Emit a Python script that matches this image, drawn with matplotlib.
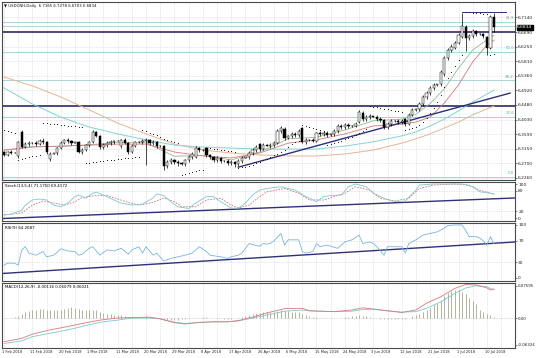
import matplotlib
matplotlib.use("Agg")
import matplotlib.pyplot as plt
import numpy as np

# USDCNH daily candles (broker has Sunday bars)
opens = [
    6.305, 6.297, 6.305, 6.302, 6.292, 6.366, 6.321, 6.330, 6.333, 6.332,
    6.329, 6.340, 6.335, 6.283, 6.300, 6.302, 6.317, 6.333, 6.341, 6.338,
    6.332, 6.334, 6.306, 6.311, 6.326, 6.335, 6.366, 6.354, 6.320, 6.326,
    6.332, 6.335, 6.338, 6.322, 6.342, 6.332, 6.305, 6.323, 6.335, 6.335,
    6.339, 6.341, 6.332, 6.336, 6.323, 6.322, 6.262, 6.275, 6.281, 6.275,
    6.272, 6.268, 6.280, 6.290, 6.290, 6.317, 6.311, 6.317, 6.296, 6.289,
    6.281, 6.287, 6.278, 6.279, 6.272, 6.275, 6.268, 6.278, 6.287, 6.289,
    6.302, 6.311, 6.329, 6.314, 6.326, 6.324, 6.326, 6.332, 6.369, 6.376,
    6.348, 6.354, 6.360, 6.357, 6.378, 6.335, 6.341, 6.343, 6.340, 6.362,
    6.360, 6.363, 6.357, 6.359, 6.369, 6.384, 6.381, 6.387, 6.384, 6.385,
    6.396, 6.424, 6.405, 6.411, 6.414, 6.412, 6.405, 6.402, 6.381, 6.390,
    6.399, 6.400, 6.396, 6.405, 6.390, 6.418, 6.433, 6.435, 6.451, 6.472,
    6.484, 6.500, 6.509, 6.511, 6.542, 6.591, 6.615, 6.622, 6.636, 6.655,
    6.685, 6.652, 6.657, 6.672, 6.665, 6.663, 6.655, 6.622, 6.7165]
highs = [
    6.309, 6.309, 6.310, 6.305, 6.338, 6.371, 6.336, 6.340, 6.334, 6.339,
    6.346, 6.348, 6.339, 6.304, 6.303, 6.320, 6.337, 6.346, 6.349, 6.343,
    6.335, 6.338, 6.316, 6.330, 6.340, 6.372, 6.368, 6.358, 6.333, 6.338,
    6.341, 6.343, 6.341, 6.346, 6.347, 6.336, 6.328, 6.339, 6.337, 6.345,
    6.348, 6.346, 6.342, 6.340, 6.325, 6.326, 6.281, 6.287, 6.285, 6.280,
    6.274, 6.285, 6.296, 6.305, 6.322, 6.320, 6.314, 6.320, 6.300, 6.293,
    6.292, 6.290, 6.281, 6.284, 6.281, 6.279, 6.283, 6.292, 6.290, 6.307,
    6.318, 6.327, 6.333, 6.331, 6.328, 6.332, 6.337, 6.375, 6.384, 6.380,
    6.356, 6.366, 6.365, 6.376, 6.382, 6.347, 6.345, 6.349, 6.367, 6.368,
    6.369, 6.368, 6.361, 6.374, 6.389, 6.390, 6.393, 6.392, 6.387, 6.396,
    6.432, 6.429, 6.417, 6.420, 6.415, 6.416, 6.410, 6.406, 6.396, 6.405,
    6.402, 6.406, 6.405, 6.409, 6.423, 6.438, 6.437, 6.457, 6.478, 6.490,
    6.506, 6.516, 6.513, 6.554, 6.597, 6.622, 6.632, 6.641, 6.666, 6.7275,
    6.690, 6.664, 6.679, 6.676, 6.667, 6.668, 6.659, 6.722, 6.7278]
lows = [
    6.292, 6.294, 6.298, 6.301, 6.288, 6.318, 6.316, 6.324, 6.330, 6.322,
    6.325, 6.330, 6.300, 6.279, 6.299, 6.297, 6.313, 6.328, 6.333, 6.327,
    6.331, 6.301, 6.300, 6.307, 6.321, 6.331, 6.352, 6.315, 6.314, 6.320,
    6.327, 6.330, 6.337, 6.318, 6.328, 6.300, 6.301, 6.319, 6.333, 6.329,
    6.265, 6.327, 6.326, 6.318, 6.320, 6.251, 6.256, 6.268, 6.268, 6.264,
    6.266, 6.262, 6.274, 6.285, 6.286, 6.305, 6.309, 6.291, 6.283, 6.276,
    6.276, 6.273, 6.276, 6.267, 6.266, 6.261, 6.263, 6.273, 6.286, 6.284,
    6.296, 6.306, 6.309, 6.310, 6.322, 6.318, 6.320, 6.328, 6.362, 6.343,
    6.346, 6.349, 6.351, 6.352, 6.331, 6.330, 6.339, 6.334, 6.336, 6.354,
    6.355, 6.352, 6.355, 6.354, 6.364, 6.375, 6.376, 6.378, 6.382, 6.380,
    6.392, 6.400, 6.399, 6.405, 6.410, 6.399, 6.396, 6.376, 6.375, 6.385,
    6.397, 6.390, 6.390, 6.384, 6.386, 6.413, 6.431, 6.430, 6.446, 6.466,
    6.478, 6.494, 6.507, 6.505, 6.537, 6.585, 6.608, 6.617, 6.632, 6.650,
    6.612, 6.645, 6.650, 6.659, 6.661, 6.650, 6.600, 6.618, 6.6703]
closes = [
    6.297, 6.305, 6.302, 6.303, 6.335, 6.321, 6.330, 6.333, 6.332, 6.329,
    6.340, 6.335, 6.305, 6.300, 6.302, 6.317, 6.333, 6.341, 6.338, 6.332,
    6.334, 6.306, 6.311, 6.326, 6.335, 6.366, 6.354, 6.320, 6.326, 6.332,
    6.335, 6.338, 6.340, 6.342, 6.332, 6.305, 6.323, 6.335, 6.335, 6.339,
    6.341, 6.332, 6.336, 6.323, 6.322, 6.262, 6.275, 6.281, 6.275, 6.272,
    6.268, 6.280, 6.290, 6.300, 6.317, 6.311, 6.312, 6.296, 6.289, 6.281,
    6.287, 6.278, 6.279, 6.272, 6.275, 6.268, 6.278, 6.287, 6.289, 6.302,
    6.311, 6.320, 6.314, 6.326, 6.324, 6.326, 6.332, 6.369, 6.378, 6.348,
    6.354, 6.360, 6.357, 6.370, 6.335, 6.341, 6.343, 6.340, 6.362, 6.360,
    6.363, 6.357, 6.359, 6.369, 6.384, 6.381, 6.387, 6.384, 6.385, 6.390,
    6.427, 6.405, 6.411, 6.414, 6.412, 6.405, 6.402, 6.381, 6.390, 6.399,
    6.400, 6.396, 6.399, 6.390, 6.418, 6.433, 6.435, 6.451, 6.472, 6.484,
    6.500, 6.509, 6.511, 6.548, 6.591, 6.615, 6.624, 6.636, 6.662, 6.688,
    6.652, 6.657, 6.672, 6.665, 6.663, 6.658, 6.621, 6.716, 6.6834]

# parabolic SAR, one dot per bar
sar = [
    6.372, 6.369, 6.366, 6.363,
    6.281, 6.284, 6.287, 6.290, 6.292, 6.294, 6.296,
    6.393, 6.392, 6.391, 6.390, 6.389, 6.388, 6.386, 6.385, 6.384, 6.383, 6.382, 6.381,
    6.271, 6.273, 6.274, 6.276, 6.277, 6.279, 6.280, 6.281, 6.282, 6.284, 6.285, 6.286,
    6.287, 6.288, 6.289, 6.290,
    6.372, 6.368, 6.364, 6.360, 6.356, 6.352, 6.346, 6.341, 6.337, 6.334, 6.332,
    6.235, 6.238, 6.241, 6.244, 6.247, 6.249, 6.251,
    6.317, 6.316, 6.314, 6.313, 6.311, 6.310, 6.308, 6.307, 6.305,
    6.257, 6.259, 6.261, 6.264, 6.267, 6.271, 6.275, 6.280, 6.285, 6.290, 6.295, 6.300,
    6.305, 6.312, 6.320, 6.328, 6.334, 6.339,
    6.387, 6.385, 6.382, 6.379, 6.376, 6.372, 6.369,
    6.326, 6.329, 6.333, 6.336, 6.340, 6.344, 6.348, 6.352, 6.357, 6.362, 6.368, 6.375,
    6.445, 6.443, 6.441, 6.439, 6.437, 6.435, 6.433, 6.431, 6.429, 6.427,
    6.372, 6.375, 6.378, 6.381, 6.387, 6.396, 6.408, 6.424, 6.439, 6.457, 6.478, 6.503,
    6.530, 6.548, 6.566, 6.585, 6.600,
    6.730, 6.729, 6.728, 6.727, 6.726, 6.725, 6.724,
    6.600, 6.602]

# moving averages, read at a handful of bars
ma_bars = [0, 8, 16, 24, 32, 40, 48, 56, 64, 72, 80, 88, 96, 104, 112, 116, 120, 124, 128, 132, 138]
ma_teal = [6.500, 6.451, 6.411, 6.381, 6.360, 6.342, 6.326, 6.320, 6.317, 6.314, 6.314,
           6.314, 6.323, 6.336, 6.354, 6.366, 6.384, 6.405, 6.430, 6.457, 6.493]
ma_tan = [6.533, 6.506, 6.472, 6.433, 6.393, 6.360, 6.329, 6.311, 6.302, 6.296, 6.293,
          6.293, 6.299, 6.311, 6.332, 6.345, 6.360, 6.378, 6.396, 6.418, 6.445]
fast_bars = [0, 8, 16, 24, 32, 40, 48, 56, 64, 72, 80, 88, 96, 104, 112, 116, 120, 124, 128, 132, 136, 138]
ma_red = [6.311, 6.320, 6.323, 6.326, 6.329, 6.329, 6.305, 6.293, 6.287, 6.302, 6.332,
          6.342, 6.360, 6.384, 6.390, 6.396, 6.411, 6.454, 6.509, 6.579, 6.630, 6.645]
ma_green = [6.310, 6.322, 6.322, 6.327, 6.334, 6.333, 6.292, 6.295, 6.281, 6.305, 6.345,
            6.350, 6.372, 6.400, 6.405, 6.420, 6.452, 6.497, 6.560, 6.615, 6.646, 6.660]

# drawn objects
fib_levels = [6.230, 6.412, 6.524, 6.610, 6.701]
fib_names = ["0.0", "23.6", "38.2", "50.0", "61.8"]
extra_levels = [6.688]
navy_levels = [6.670, 6.445]
trend_bars = [66, 142.5]
trend_prices = [6.259, 6.484]
top_bars = [129, 141.5]
top_prices = [6.730, 6.730]

price_ticks = [6.7140, 6.6696, 6.6253, 6.5809, 6.5366, 6.4922, 6.4479, 6.4035, 6.3592, 6.3148, 6.2704, 6.2261]
price_labels = ["6.7140", "6.6690", "6.6250", "6.5810", "6.5360", "6.4920", "6.4480", "6.4030",
                "6.3590", "6.3150", "6.2700", "6.2260"]

# Stochastic
stoch_bars = [0, 2, 5, 6, 8, 10, 12, 14, 16, 18, 20, 21, 23, 25, 26, 29, 31, 33, 36, 39,
              42, 43, 45, 47, 49, 52, 54, 57, 59, 61, 64, 66, 68, 70, 72, 74, 78, 82, 85, 88,
              90, 92, 95, 97, 99, 102, 104, 107, 110, 113, 116, 117, 121, 126, 129, 132, 134, 137, 138]
stoch_main = [9, 11, 23, 38, 53, 56, 53, 38, 33, 44, 63, 68, 58, 73, 76, 63, 53, 44, 38, 41,
              59, 71, 66, 48, 33, 28, 44, 63, 63, 48, 29, 29, 44, 68, 82, 87, 92, 82, 63, 48,
              63, 66, 68, 92, 100, 92, 73, 58, 48, 50, 82, 97, 100, 100, 100, 92, 77, 73, 71.2]
signal_bars = [0, 5, 8, 11, 14, 17, 20, 22, 26, 29, 32, 35, 38, 42, 45, 48, 50, 54, 57, 61,
               64, 66, 69, 72, 74, 79, 83, 86, 90, 93, 96, 99, 103, 106, 110, 114, 117, 121, 127, 131,
               134, 138]
stoch_signal = [9, 15, 38, 50, 44, 38, 48, 60, 66, 66, 56, 46, 38, 46, 59, 48, 33, 33, 53, 58,
                38, 29, 38, 63, 77, 87, 73, 53, 53, 63, 73, 92, 82, 58, 50, 58, 87, 97, 100, 97,
                82, 69.4]
stoch_trend_bars = [-0.5, 144]
stoch_trend_vals = [-1.5, 59]

# RSI
rsi_bars = [0, 1, 3, 4, 5, 6, 7, 9, 11, 12, 14, 16, 18, 20, 21, 22, 24, 25, 27, 29,
            31, 33, 35, 36, 38, 39, 40, 42, 43, 45, 47, 49, 51, 53, 55, 57, 58, 61, 63, 64,
            66, 67, 69, 70, 72, 73, 74, 75, 76, 78, 79, 80, 83, 84, 85, 87, 88, 89, 91, 94,
            96, 98, 100, 101, 103, 104, 105, 107, 108, 110, 112, 113, 114, 116, 118, 120, 122, 124, 125, 127,
            129, 130, 131, 133, 134, 135, 136, 137, 138]
rsi_vals = [24, 28, 28, 24, 53, 59, 47, 43, 50, 40, 43, 55, 51, 50, 43, 45, 56, 59, 43, 53,
            51, 56, 45, 53, 59, 47, 59, 43, 47, 32, 37, 40, 43, 47, 59, 50, 43, 40, 37, 40,
            43, 47, 65, 63, 60, 65, 64, 65, 70, 84, 62, 72, 72, 50, 47, 50, 65, 59, 62, 56,
            68, 72, 81, 65, 68, 65, 59, 43, 59, 59, 59, 47, 65, 72, 81, 84, 87, 94, 99, 100,
            100, 90, 78, 78, 75, 70, 62, 78, 64.3]
rsi_trend_bars = [-0.5, 144]
rsi_trend_vals = [8.5, 68]

# MACD
macd_bars = [0, 5, 8, 13, 18, 22, 27, 32, 36, 41, 44, 48, 51, 55, 59, 63, 66, 70, 74, 79,
             84, 86, 93, 98, 101, 104, 108, 112, 116, 119, 123, 127, 130, 133, 136, 137, 138]
macd_red = [-0.056, -0.048, -0.038, -0.028, -0.020, -0.013, -0.005, 0.000, 0.001, 0.002,
            -0.002, -0.011, -0.014, -0.010, -0.009, -0.009, -0.006, 0.002, 0.012, 0.022,
            0.023, 0.017, 0.015, 0.019, 0.024, 0.021, 0.017, 0.013, 0.019, 0.035,
            0.050, 0.070, 0.079, 0.078, 0.071, 0.066, 0.068]
macd_teal = [-0.060, -0.054, -0.044, -0.036, -0.028, -0.020, -0.010, -0.005, 0.000, 0.000,
             -0.002, -0.010, -0.013, -0.011, -0.009, -0.009, -0.007, 0.000, 0.007, 0.016,
             0.019, 0.017, 0.015, 0.016, 0.020, 0.021, 0.017, 0.014, 0.015, 0.023,
             0.038, 0.058, 0.071, 0.076, 0.074, 0.069, 0.068]
macd_hist = [
    0.000, 0.001, 0.001, 0.002, 0.004, 0.010, 0.014, 0.016, 0.018, 0.019,
    0.021, 0.022, 0.020, 0.019, 0.018, 0.018, 0.020, 0.022, 0.024, 0.025,
    0.024, 0.021, 0.019, 0.018, 0.018, 0.020, 0.019, 0.015, 0.012, 0.010,
    0.009, 0.008, 0.007, 0.006, 0.005, 0.003, 0.003, 0.003, 0.003, 0.003,
    0.004, 0.003, 0.002, 0.001, -0.001, -0.004, -0.005, -0.005, -0.004, -0.004,
    -0.003, -0.002, -0.001, 0.000, 0.001, 0.001, 0.002, 0.002, 0.001, 0.000,
    -0.001, -0.001, -0.002, -0.002, -0.002, -0.001, 0.000, 0.002, 0.004, 0.007,
    0.009, 0.011, 0.012, 0.013, 0.013, 0.014, 0.015, 0.017, 0.018, 0.017,
    0.016, 0.015, 0.014, 0.013, 0.010, 0.007, 0.005, 0.003, 0.002, 0.001,
    0.000, -0.001, -0.001, -0.001, 0.000, 0.001, 0.002, 0.003, 0.004, 0.005,
    0.006, 0.005, 0.004, 0.002, 0.001, -0.001, -0.002, -0.003, -0.003, -0.003,
    -0.003, -0.002, -0.002, -0.002, 0.001, 0.004, 0.007, 0.010, 0.014, 0.019,
    0.024, 0.030, 0.036, 0.043, 0.051, 0.058, 0.063, 0.066, 0.065, 0.062,
    0.056, 0.047, 0.040, 0.032, 0.020, 0.014, 0.010, 0.006, 0.002]

date_bars = [0, 8, 16, 24, 32, 40, 48, 56, 64, 72, 80, 88, 96, 104, 112, 120, 128, 136]
date_labels = ["1 Feb 2018", "11 Feb 2018", "20 Feb 2018", "1 Mar 2018", "11 Mar 2018",
               "20 Mar 2018", "29 Mar 2018", "8 Apr 2018", "17 Apr 2018", "26 Apr 2018",
               "6 May 2018", "15 May 2018", "24 May 2018", "3 Jun 2018", "12 Jun 2018",
               "21 Jun 2018", "1 Jul 2018", "10 Jul 2018"]

W, H = 536, 358
fig = plt.figure(figsize=(W / 100, H / 100), dpi=100)
fig.patch.set_facecolor("white")


def panel(top, bottom):
    return fig.add_axes([2 / W, 1 - bottom / H, 513 / W, (bottom - top) / H])


ax_p = panel(2, 180)
ax_s = panel(181.5, 221)
ax_r = panel(222.5, 281)
ax_m = panel(282.5, 348)

grid_c = "#b4b4b4"
dots = (0, (1, 2))
for ax in (ax_p, ax_s, ax_r, ax_m):
    ax.set_xlim(-0.56, 143.9)
    ax.yaxis.tick_right()
    ax.tick_params(axis="y", labelsize=3.2, length=1.5, width=0.4, pad=0.8, colors="#222222")
    ax.tick_params(axis="x", bottom=False, labelbottom=False)
    for sp in ax.spines.values():
        sp.set_color("#4a4a4a")
        sp.set_linewidth(0.8)
    for g in np.arange(0, 144, 4):
        ax.axvline(g, color=grid_c, lw=0.4, ls=dots, zorder=0)

# --- main price panel ---
ax_p.set_ylim(6.2200, 6.7608)
ax_p.set_yticks(price_ticks)
ax_p.set_yticklabels(price_labels)
for t in price_ticks:
    ax_p.axhline(t, color=grid_c, lw=0.4, ls=dots, zorder=0)

for lvl in fib_levels + extra_levels:
    ax_p.axhline(lvl, color="#a6d6d6", lw=0.7, zorder=1)
for lvl, name in zip(fib_levels, fib_names):
    ax_p.text(143.6, lvl + 0.004, name, fontsize=2.8, color="#6aa8a8", ha="right", va="bottom")
for lvl in navy_levels:
    ax_p.axhline(lvl, color="#3b3b74", lw=1.3, zorder=1)

ax_p.plot(ma_bars, ma_tan, color="#e3b694", lw=0.7, zorder=2)
ax_p.plot(ma_bars, ma_teal, color="#86d2d6", lw=0.7, zorder=2)
ax_p.plot(fast_bars, ma_green, color="#96b896", lw=0.6, zorder=2)
ax_p.plot(fast_bars, ma_red, color="#d77a7a", lw=0.6, zorder=2)
ax_p.plot(trend_bars, trend_prices, color="#2f2f7a", lw=1.0, zorder=2)
ax_p.plot(top_bars, top_prices, color="#2f2f7a", lw=0.7, zorder=2)

bars = np.arange(len(closes))
o, h, l, c = (np.array(v) for v in (opens, highs, lows, closes))
up = c >= o
ax_p.vlines(bars, l, h, color="black", lw=0.5, zorder=3)
body = np.maximum(np.abs(c - o), 0.0008)
ax_p.bar(bars, body, bottom=np.minimum(o, c), width=0.62,
         color=np.where(up, "white", "black"), edgecolor="black", linewidth=0.35, zorder=4)
ax_p.plot(bars, sar, ls="none", marker="o", ms=0.7, mew=0, color="#111111", zorder=5)

ax_p.text(1.004, closes[-1], "6.6834", transform=ax_p.get_yaxis_transform(),
          fontsize=3.2, color="white", ha="left", va="center", zorder=10, clip_on=False,
          bbox=dict(boxstyle="square,pad=0.12", fc="black", ec="black"))
fig.text(4 / W, 1 - 6 / H, "\u25bc USDCNH,Daily  6.7165 6.7278 6.6703 6.6834",
         fontsize=2.8, color="#111111", va="center")

# --- stochastic ---
ax_s.set_ylim(-8.8, 107.4)
ax_s.set_yticks([100, 80, 20, 0])
for lv in (80, 20):
    ax_s.axhline(lv, color=grid_c, lw=0.4, ls=dots, zorder=0)
ax_s.plot(stoch_trend_bars, stoch_trend_vals, color="#2f2f7a", lw=1.0)
ax_s.plot(signal_bars, stoch_signal, color="#d47070", lw=0.6, ls=(0, (2, 1.5)))
ax_s.plot(stoch_bars, stoch_main, color="#7cc8d0", lw=0.6)
ax_s.text(0.006, 0.89, "Stoch(13,5,4) 71.1750 69.4172", transform=ax_s.transAxes,
          fontsize=2.9, va="center")

# --- RSI ---
ax_r.set_ylim(-5.7, 104.7)
ax_r.set_yticks([100, 70, 30, 0])
for lv in (70, 30):
    ax_r.axhline(lv, color=grid_c, lw=0.4, ls=dots, zorder=0)
ax_r.plot(rsi_trend_bars, rsi_trend_vals, color="#2f2f7a", lw=1.0)
ax_r.plot(rsi_bars, rsi_vals, color="#78b4dc", lw=0.6)
ax_r.text(0.006, 0.905, "RSI(9) 64.2687", transform=ax_r.transAxes, fontsize=2.9, va="center")

# --- MACD ---
ax_m.set_ylim(-0.0708, 0.0838)
ax_m.set_yticks([0.07595, 0.0, -0.06324])
ax_m.set_yticklabels(["0.07595", "0.00", "-0.06324"])
ax_m.tick_params(axis="y", labelsize=2.9)
ax_m.axhline(0, color="#909090", lw=0.4, ls=dots, zorder=0)
ax_m.vlines(bars, 0, macd_hist, color="#a6a68e", lw=0.6)
ax_m.plot(macd_bars, macd_teal, color="#7cc8d0", lw=0.6)
ax_m.plot(macd_bars, macd_red, color="#d77a7a", lw=0.6)
ax_m.text(0.006, 0.93, "MACD(12,26,9) -0.00116 0.06079 0.06021", transform=ax_m.transAxes,
          fontsize=2.9, va="center")

for b, lab in zip(date_bars, date_labels):
    ax_m.text(b - 0.56, -0.062, lab, transform=ax_m.get_xaxis_transform(),
              fontsize=2.6, ha="left", va="center", color="#222222", clip_on=False)

fig.savefig("out.png", dpi=100)
